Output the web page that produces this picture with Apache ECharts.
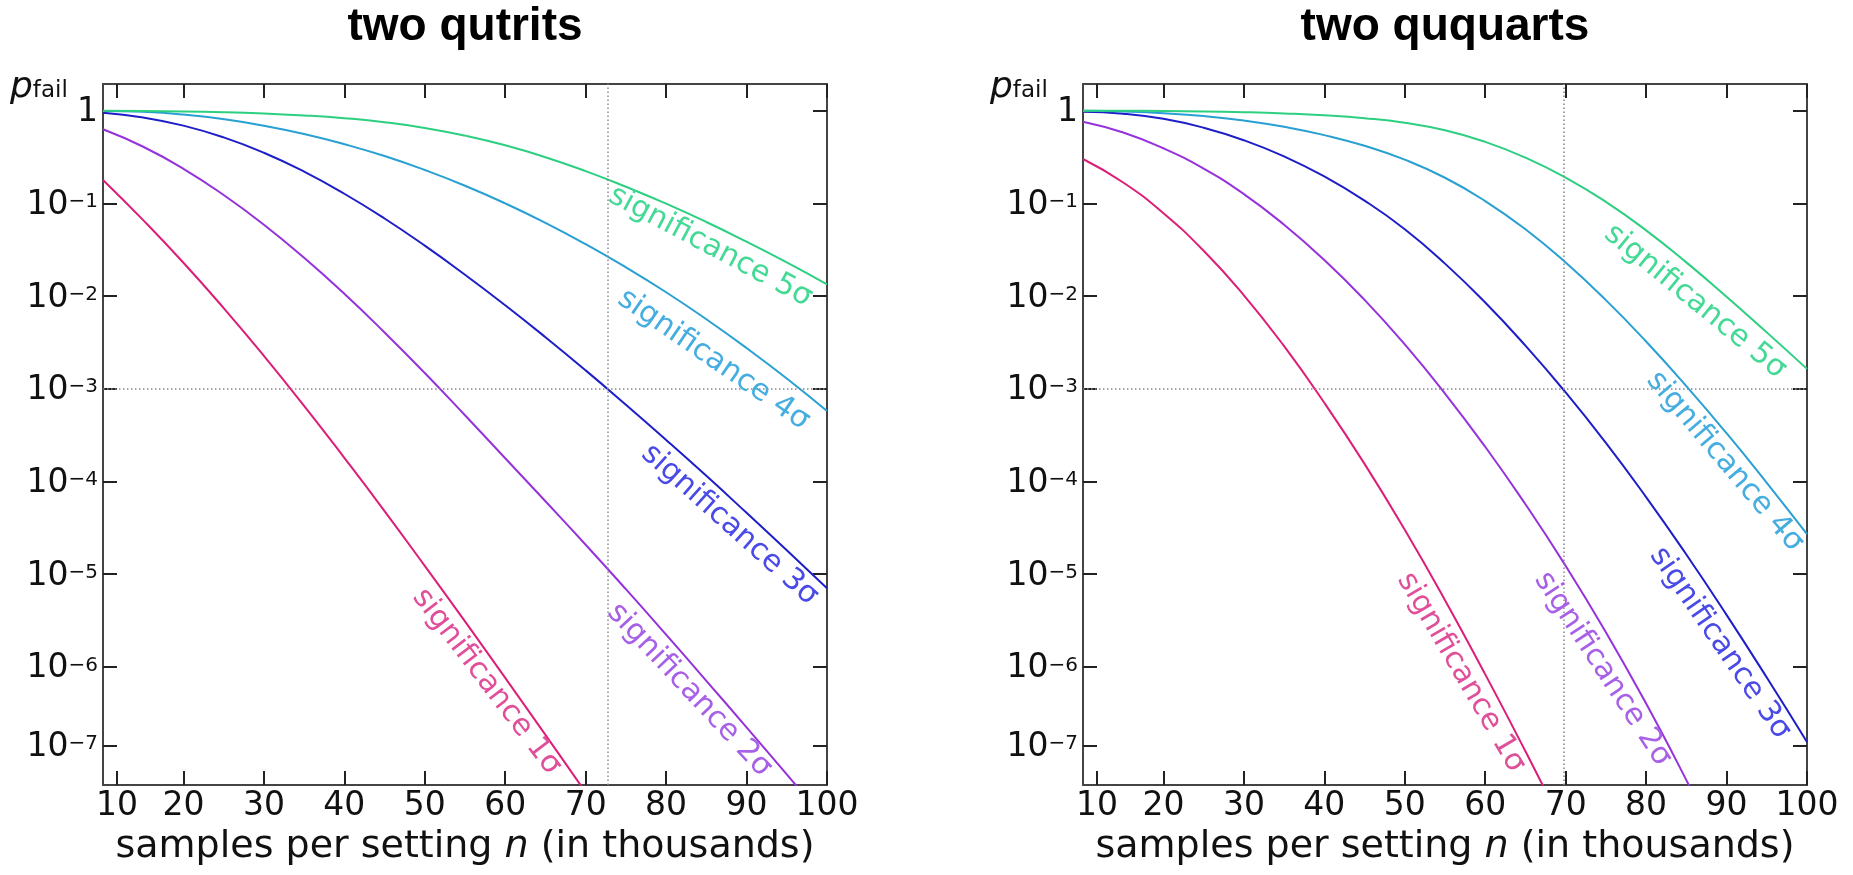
<!DOCTYPE html>
<html>
<head>
<meta charset="utf-8">
<script src="https://cdn.jsdelivr.net/npm/echarts@6/dist/echarts.min.js"></script>
<style>
html,body{margin:0;padding:0;background:#ffffff;}
#chart{width:1853px;height:875px;}
</style>
</head>
<body>
<div id="chart"></div>
<script>
// ---------- data (samples per setting n, in thousands) ----------
const nValues = [10, 15, 20, 25, 30, 35, 40, 45, 50, 55, 60, 65, 70, 75, 80, 85, 90, 95, 100];

// two qutrits: p_fail per significance level
const qutrit1 = [0.179, 0.0659, 0.0229, 0.00743, 0.00227, 6.55e-4, 1.80e-4, 4.80e-5, 1.23e-5, 3.10e-6, 7.60e-7, 1.85e-7, 4.43e-8, 1.05e-8];
const qutrit2 = [0.630, 0.408, 0.236, 0.123, 0.0589, 0.0259, 0.0106, 0.00405, 0.00148, 5.18e-4, 1.78e-4, 6.12e-5, 2.08e-5, 6.89e-6, 2.23e-6, 7.08e-7, 2.23e-7, 6.93e-8, 2.12e-8];
const qutrit3 = [0.951, 0.845, 0.690, 0.515, 0.352, 0.220, 0.127, 0.0687, 0.0350, 0.0170, 0.00796, 0.00360, 0.00158, 6.73e-4, 2.81e-4, 1.15e-4, 4.59e-5, 1.81e-5, 7.05e-6];
const qutrit4 = [0.995, 0.973, 0.908, 0.809, 0.689, 0.560, 0.435, 0.324, 0.229, 0.155, 0.100, 0.0617, 0.0363, 0.0204, 0.0110, 0.00562, 0.00275, 0.00129, 5.75e-4];
const qutrit5 = [0.998, 0.993, 0.982, 0.962, 0.931, 0.889, 0.830, 0.752, 0.652, 0.538, 0.423, 0.315, 0.223, 0.151, 0.0993, 0.0630, 0.0386, 0.0231, 0.0134];

// two ququarts: p_fail per significance level
const ququart1 = [0.301, 0.168, 0.0783, 0.0308, 0.0102, 0.00288, 7.06e-4, 1.55e-4, 3.01e-5, 5.24e-6, 8.30e-7, 1.23e-7, 1.73e-8];
const ququart2 = [0.760, 0.581, 0.393, 0.237, 0.126, 0.0588, 0.0245, 0.00910, 0.00301, 8.89e-4, 2.37e-4, 5.68e-5, 1.23e-5, 2.37e-6, 4.02e-7, 6.01e-8, 8.20e-9];
const ququart3 = [0.975, 0.929, 0.817, 0.655, 0.480, 0.321, 0.195, 0.107, 0.0526, 0.0224, 0.00853, 0.00292, 9.14e-4, 2.61e-4, 6.78e-5, 1.63e-5, 3.64e-6, 7.69e-7, 1.55e-7];
const ququart4 = [0.998, 0.977, 0.938, 0.875, 0.783, 0.670, 0.545, 0.418, 0.296, 0.189, 0.106, 0.0526, 0.0230, 0.00904, 0.00324, 0.00107, 3.32e-4, 9.68e-5, 2.70e-5];
const ququart5 = [0.999, 0.998, 0.993, 0.982, 0.964, 0.935, 0.893, 0.830, 0.740, 0.615, 0.461, 0.312, 0.190, 0.104, 0.0512, 0.0231, 0.00986, 0.00406, 0.00164];

// series names / labels
const sigmaNames = ['significance 1σ', 'significance 2σ', 'significance 3σ', 'significance 4σ', 'significance 5σ'];

// label anchors [n, p] and angles
const qutritLabelPos = [[57.7, 6.9e-7], [82.9, 5.6e-7], [87.9, 3.4e-5], [85.9, 2.05e-3], [85.5, 0.0341]];
const qutritLabelRot = [-52.6, -46.8, -41.8, -34.6, -28];
const ququartLabelPos = [[57.0, 8.7e-7], [74.6, 9.5e-7], [89.2, 1.8e-6], [89.8, 1.64e-4], [86.1, 8.7e-3]];
const ququartLabelRot = [-59.6, -56.7, -55.4, -49.7, -39.3];

// reference lines
const pThreshold = 1e-3;
const qutritNRef = 72.7;
const ququartNRef = 69.7;

// ticks
const xTickValues = [11.75, 20, 30, 40, 50, 60, 70, 80, 90, 100];
const xTickLabels = ['10', '20', '30', '40', '50', '60', '70', '80', '90', '100'];
const yTickValues = [1, 0.1, 0.01, 1e-3, 1e-4, 1e-5, 1e-6, 1.426e-7];
const yTickExponents = [0, -1, -2, -3, -4, -5, -6, -7];

const titles = ['two qutrits', 'two ququarts'];

// ---------- styling ----------
const FONT = 'DejaVu Sans';
const lineColors = ['#dc1e78', '#9632dc', '#1e1ec8', '#28a0d2', '#2dcf80'];
const labelColors = ['#e0509a', '#a860e6', '#4a4ae6', '#45ade0', '#45d996'];
const Y_MIN = 5.32e-8, Y_MAX = 1.94;
const X_MIN = 10, X_MAX = 100;

const grids = [
  {left: 103, top: 84, width: 724, height: 701},
  {left: 1083, top: 84, width: 724, height: 701}
];

function closestIndex(arr, v) {
  let best = 0, bd = Infinity;
  arr.forEach((a, i) => { const d = Math.abs(Math.log(a) - Math.log(v)); if (d < bd) { bd = d; best = i; } });
  return best;
}
function xLabel(v) {
  let best = 0, bd = Infinity;
  xTickValues.forEach((a, i) => { const d = Math.abs(a - v); if (d < bd) { bd = d; best = i; } });
  return xTickLabels[best];
}
function yLabel(v) {
  const e = yTickExponents[closestIndex(yTickValues, v)];
  if (e === 0) return '{b|1}';
  return '{b|10}{s|\u2212' + Math.abs(e) + '}';
}

const axisLineStyle = {color: '#444', width: 2};
const tickStyle = {color: '#222', width: 2};

const xAxes = [], yAxes = [];
grids.forEach((g, gi) => {
  const xCommon = {
    type: 'value', gridIndex: gi, min: X_MIN, max: X_MAX,
    splitLine: {show: false},
    axisLine: {show: true, onZero: false, lineStyle: axisLineStyle},
    axisTick: {show: true, inside: true, length: 14, customValues: xTickValues, lineStyle: tickStyle}
  };
  xAxes.push(Object.assign({}, xCommon, {
    position: 'bottom',
    axisLabel: {show: true, customValues: xTickValues, formatter: xLabel, margin: 5,
      color: '#111', fontSize: 33, fontFamily: FONT},
    name: 'samples per setting {i|n} (in thousands)',
    nameLocation: 'middle', nameGap: 43,
    nameTextStyle: {color: '#111', fontSize: 38, fontFamily: FONT,
      rich: {i: {fontStyle: 'italic', fontSize: 38, fontFamily: FONT, color: '#111'}}}
  }));
  xAxes.push(Object.assign({}, xCommon, {position: 'top', axisLabel: {show: false}}));

  const yCommon = {
    type: 'log', logBase: 10, gridIndex: gi, min: Y_MIN, max: Y_MAX,
    splitLine: {show: false},
    axisLine: {show: true, onZero: false, lineStyle: axisLineStyle},
    axisTick: {show: true, inside: true, length: 14, customValues: yTickValues, lineStyle: tickStyle}
  };
  yAxes.push(Object.assign({}, yCommon, {
    position: 'left',
    axisLabel: {show: true, customValues: yTickValues, formatter: yLabel, margin: 5,
      color: '#111', fontFamily: FONT,
      rich: {
        b: {fontSize: 33, lineHeight: 33, fontFamily: FONT, color: '#111', padding: [4, 0, 0, 0]},
        s: {fontSize: 20, lineHeight: 20, fontFamily: FONT, color: '#111', verticalAlign: 'top', padding: [5, 0, 0, 0]}
      }}
  }));
  yAxes.push(Object.assign({}, yCommon, {position: 'right', axisLabel: {show: false}}));
});

function buildSeries(gi, curves, labelPos, labelRot, nRef) {
  return curves.map((vals, k) => {
    const s = {
      name: sigmaNames[k],
      type: 'line',
      xAxisIndex: gi * 2, yAxisIndex: gi * 2,
      data: vals.map((p, i) => [nValues[i], p]),
      symbol: 'none', smooth: true, clip: true,
      lineStyle: {color: lineColors[k], width: 2},
      itemStyle: {color: lineColors[k]},
      silent: true, animation: false, z: 3,
      markPoint: {
        silent: true, symbol: 'circle', symbolSize: 0,
        itemStyle: {color: 'transparent'},
        label: {show: true, position: 'inside', formatter: sigmaNames[k], rotate: labelRot[k],
          color: labelColors[k], fontSize: 30, fontFamily: FONT, textBorderWidth: 0},
        data: [{coord: labelPos[k]}]
      }
    };
    if (k === 2) {
      s.markLine = {
        silent: true, symbol: ['none', 'none'], animation: false,
        label: {show: false},
        lineStyle: {color: '#888', width: 1.5, type: [1.5, 2.5]},
        emphasis: {disabled: true},
        data: [
          [{coord: [X_MIN, pThreshold]}, {coord: [X_MAX, pThreshold]}],
          [{coord: [nRef, Y_MIN]}, {coord: [nRef, Y_MAX]}]
        ]
      };
    }
    return s;
  });
}

const series = [].concat(
  buildSeries(0, [qutrit1, qutrit2, qutrit3, qutrit4, qutrit5], qutritLabelPos, qutritLabelRot, qutritNRef),
  buildSeries(1, [ququart1, ququart2, ququart3, ququart4, ququart5], ququartLabelPos, ququartLabelRot, ququartNRef)
);

const pfailTitle = (left) => ({
  text: '{p|p}{f|fail}', left: left, top: 73, padding: 0,
  textStyle: {fontWeight: 'normal', rich: {
    p: {fontSize: 36, lineHeight: 30, fontStyle: 'italic', fontWeight: 'normal', fontFamily: FONT, color: '#111'},
    f: {fontSize: 23, lineHeight: 18, fontWeight: 'normal', fontFamily: FONT, color: '#111', verticalAlign: 'bottom'}
  }}
});

const option = {
  animation: false,
  backgroundColor: '#ffffff',
  title: [
    {text: titles[0], left: 465, top: 2, textAlign: 'center', padding: 0,
      textStyle: {fontFamily: 'Liberation Sans', fontWeight: 'bold', fontSize: 46, lineHeight: 50, color: '#000'}},
    {text: titles[1], left: 1445, top: 2, textAlign: 'center', padding: 0,
      textStyle: {fontFamily: 'Liberation Sans', fontWeight: 'bold', fontSize: 46, lineHeight: 50, color: '#000'}},
    pfailTitle(10),
    pfailTitle(990)
  ],
  grid: grids.map(g => Object.assign({containLabel: false, outerBoundsMode: 'none'}, g)),
  xAxis: xAxes,
  yAxis: yAxes,
  series: series
};

const chart = echarts.init(document.getElementById('chart'), null, {renderer: 'canvas'});
chart.setOption(option);
</script>
</body>
</html>
